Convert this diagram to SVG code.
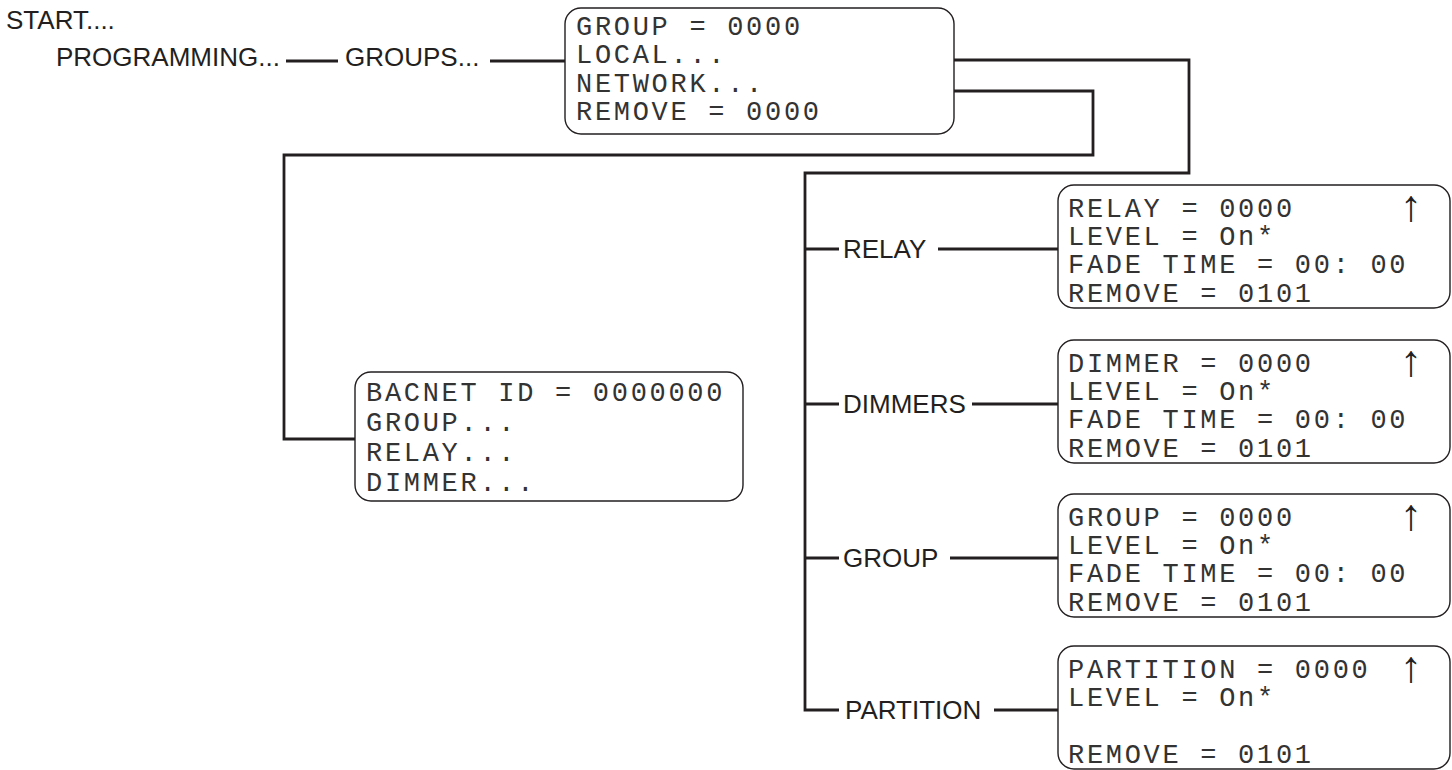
<svg xmlns="http://www.w3.org/2000/svg" width="1452" height="770" viewBox="0 0 1452 770">
<style>
.lbl{font-family:"Liberation Sans",Arial,sans-serif;font-size:26px;fill:#231f20}
.lcd{font-family:"Liberation Mono","DejaVu Sans Mono",monospace;font-size:27px;letter-spacing:2.7px;fill:#333}
.box{fill:#fff;stroke:#231f20;stroke-width:1.4}
.con{fill:none;stroke:#231f20;stroke-width:2.8}
.arr{font-family:"Liberation Sans","DejaVu Sans",sans-serif;font-size:44px;fill:#231f20;text-anchor:middle}
</style>
<rect width="1452" height="770" fill="#fff"/>
<g id="connectors">
<path class="con" d="M286,61 H338"/>
<path class="con" d="M490,61 H565"/>
<path class="con" d="M954,60 H1189 V173 H805 V710 H839"/>
<path class="con" d="M954,91 H1093 V155 H284 V439 H355"/>
<path class="con" d="M805,249 H839 M938,249 H1058"/>
<path class="con" d="M805,404 H839 M972,404 H1058"/>
<path class="con" d="M805,558 H839 M950,558 H1058"/>
<path class="con" d="M994,710 H1058"/>
</g>
<g id="start"><text class="lbl" x="6" y="29">START....</text></g>
<g id="programming"><text class="lbl" x="56" y="66">PROGRAMMING...</text></g>
<g id="groups"><text class="lbl" x="345" y="66">GROUPS...</text></g>
<g id="group-menu">
<rect class="box" x="565" y="8" width="389" height="126" rx="16"/>
<text class="lcd" x="576" y="35">GROUP = 0000</text>
<text class="lcd" x="576" y="63">LOCAL...</text>
<text class="lcd" x="576" y="92">NETWORK...</text>
<text class="lcd" x="576" y="120">REMOVE = 0000</text>
</g>
<g id="bacnet-menu">
<rect class="box" x="355" y="372" width="388" height="129" rx="16"/>
<text class="lcd" x="366" y="401">BACNET ID = 0000000</text>
<text class="lcd" x="366" y="431">GROUP...</text>
<text class="lcd" x="366" y="461">RELAY...</text>
<text class="lcd" x="366" y="491">DIMMER...</text>
</g>
<g id="relay-label"><text class="lbl" x="843" y="258">RELAY</text></g>
<g id="dimmers-label"><text class="lbl" x="843" y="413">DIMMERS</text></g>
<g id="group-label"><text class="lbl" x="843" y="567">GROUP</text></g>
<g id="partition-label"><text class="lbl" x="845" y="719">PARTITION</text></g>
<g id="relay-box">
<rect class="box" x="1058" y="185" width="392" height="123" rx="16"/>
<text class="lcd" x="1068" y="217">RELAY = 0000</text>
<text class="lcd" x="1068" y="245">LEVEL = On*</text>
<text class="lcd" x="1068" y="273">FADE TIME = 00: 00</text>
<text class="lcd" x="1068" y="302">REMOVE = 0101</text>
<text class="arr" x="1411" y="221">↑</text>
</g>
<g id="dimmer-box">
<rect class="box" x="1058" y="340" width="392" height="123" rx="16"/>
<text class="lcd" x="1068" y="372">DIMMER = 0000</text>
<text class="lcd" x="1068" y="400">LEVEL = On*</text>
<text class="lcd" x="1068" y="428">FADE TIME = 00: 00</text>
<text class="lcd" x="1068" y="457">REMOVE = 0101</text>
<text class="arr" x="1411" y="376">↑</text>
</g>
<g id="group-box">
<rect class="box" x="1058" y="494" width="392" height="123" rx="16"/>
<text class="lcd" x="1068" y="526">GROUP = 0000</text>
<text class="lcd" x="1068" y="554">LEVEL = On*</text>
<text class="lcd" x="1068" y="582">FADE TIME = 00: 00</text>
<text class="lcd" x="1068" y="611">REMOVE = 0101</text>
<text class="arr" x="1411" y="530">↑</text>
</g>
<g id="partition-box">
<rect class="box" x="1058" y="646" width="392" height="123" rx="16"/>
<text class="lcd" x="1068" y="678">PARTITION = 0000</text>
<text class="lcd" x="1068" y="706">LEVEL = On*</text>
<text class="lcd" x="1068" y="763">REMOVE = 0101</text>
<text class="arr" x="1411" y="682">↑</text>
</g>
</svg>
